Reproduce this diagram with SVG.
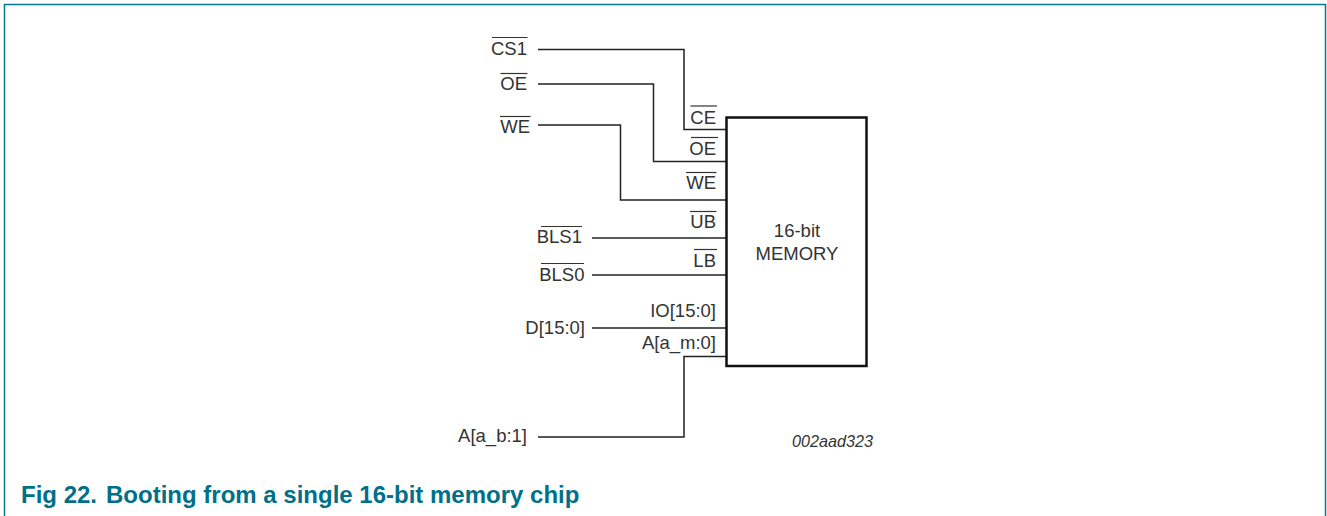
<svg xmlns="http://www.w3.org/2000/svg" width="1327" height="516" viewBox="0 0 1327 516">
<style>
text{font-family:"Liberation Sans",Arial,sans-serif;font-size:18.5px;fill:#333}
.e{text-anchor:end}
.m{text-anchor:middle}
.w{fill:none;stroke:#222;stroke-width:1.5}
.o{fill:none;stroke:#333;stroke-width:1.2}
.f{fill:none;stroke:#007a8c;stroke-width:1.5}
.c{font-size:24px;font-weight:bold;fill:#007087}
</style>
<rect width="1327" height="516" fill="#fff"/>
<path class="f" d="M4.500 516V4.500H1325.500V516"/>
<g id="connectors">
<path class="w" d="M538 49.500H684V129.500H726"/>
<path class="w" d="M538 84H653.500V161.500H726"/>
<path class="w" d="M538 125H620.500V200H726"/>
<path class="w" d="M592 238H726"/>
<path class="w" d="M592 275H726"/>
<path class="w" d="M592 328H726"/>
<path class="w" d="M538 437H684V356.500H726"/>
</g>
<g id="memory">
<rect x="726.500" y="117.500" width="140" height="248.500" fill="#fff" stroke="#111" stroke-width="2.500"/>
<text class="m" x="797" y="237">16-bit</text>
<text class="m" x="797" y="260">MEMORY</text>
</g>
<g id="in-cs1"><text class="e" x="527" y="55">CS1</text><path class="o" d="M492 37.500H527.500"/></g>
<g id="in-oe"><text class="e" x="527" y="90">OE</text><path class="o" d="M500.500 73.500H527.500"/></g>
<g id="in-we"><text class="e" x="530" y="133">WE</text><path class="o" d="M500 116.500H530.500"/></g>
<g id="in-bls1"><text class="e" x="582" y="243">BLS1</text><path class="o" d="M541 226.500H582"/></g>
<g id="in-bls0"><text class="e" x="584.500" y="281">BLS0</text><path class="o" d="M541 263.500H584"/></g>
<g id="in-d"><text class="e" x="585" y="334">D[15:0]</text></g>
<g id="in-a"><text class="e" x="527" y="442">A[a_b:1]</text></g>
<g id="pin-ce"><text class="e" x="716" y="124">CE</text><path class="o" d="M690.500 106H717"/></g>
<g id="pin-oe"><text class="e" x="716" y="155">OE</text><path class="o" d="M691 137.500H718"/></g>
<g id="pin-we"><text class="e" x="716" y="189">WE</text><path class="o" d="M686 172.500H716.500"/></g>
<g id="pin-ub"><text class="e" x="716" y="228">UB</text><path class="o" d="M690 211.500H716.500"/></g>
<g id="pin-lb"><text class="e" x="716" y="267">LB</text><path class="o" d="M694 249.500H717"/></g>
<g id="pin-io"><text class="e" x="716" y="317">IO[15:0]</text></g>
<g id="pin-am"><text class="e" x="716" y="349">A[a_m:0]</text></g>
<text x="792" y="447" style="font-size:16.200px;font-style:italic">002aad323</text>
<text class="c" x="21" y="503">Fig 22.</text>
<text class="c" x="106" y="503">Booting from a single 16-bit memory chip</text>
</svg>
